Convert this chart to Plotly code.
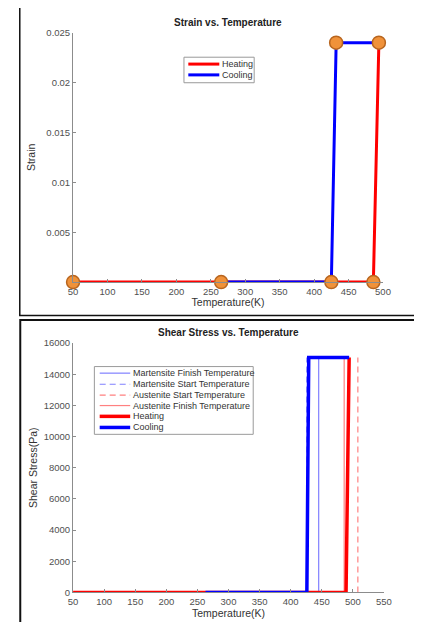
import plotly.graph_objects as go

# ---------------- data ----------------
# Strain vs. Temperature
heat_T = [50, 265, 425, 486, 494]
heat_strain = [0, 0, 0, 0, 0.024]
cool_T = [494, 432, 425, 265]
cool_strain = [0.024, 0.024, 0, 0]
marker_T = [50, 265, 425, 486, 432, 494]
marker_strain = [0, 0, 0, 0, 0.024, 0.024]

# Shear Stress vs. Temperature
heat2_T = [50, 263, 426, 489, 494]
heat2_stress = [0, 0, 0, 0, 15070]
cool2_T = [494, 429, 426, 263]
cool2_stress = [15070, 15070, 0, 0]
stress_top = 15070
Mf, Ms, As, Af = 445, 426, 508, 486

strain_ticks = [0.005, 0.01, 0.015, 0.02, 0.025]
strain_ticktext = ["0.005", "0.01", "0.015", "0.02", "0.025"]
temp_ticks1 = [50, 100, 150, 200, 250, 300, 350, 400, 450, 500]
temp_ticks2 = [50, 100, 150, 200, 250, 300, 350, 400, 450, 500, 550]
stress_ticks = [0, 2000, 4000, 6000, 8000, 10000, 12000, 14000, 16000]

# ---------------- helpers ----------------
OFF = 8            # default page margin around the figure
W, H = 414, 614    # figure size so that page + margins fit the 422x631 window


def fx(px):
    return (px - OFF) / W


def fy(py):
    return 1 - (py - OFF) / H


FONT = "Liberation Sans, Arial, sans-serif"
RED = "#ff0000"
BLUE = "#0000ff"
LRED = "#ff8080"
LBLUE = "#8080ff"
DASH = "6px,4px"

fig = go.Figure()

# top panel
fig.add_trace(go.Scatter(x=heat_T, y=heat_strain, mode="lines", name="Heating",
                         line=dict(color=RED, width=3), xaxis="x", yaxis="y", showlegend=False))
fig.add_trace(go.Scatter(x=cool_T, y=cool_strain, mode="lines", name="Cooling",
                         line=dict(color=BLUE, width=3), xaxis="x", yaxis="y", showlegend=False))
fig.add_trace(go.Scatter(x=marker_T, y=marker_strain, mode="markers", showlegend=False,
                         marker=dict(size=13, color="#f0923a", line=dict(color="#b8651e", width=1.5)),
                         xaxis="x", yaxis="y", cliponaxis=False))

# bottom panel
thin = [
    ("Martensite Finish Temperature", Mf, LBLUE, "solid"),
    ("Martensite Start Temperature", Ms, LBLUE, DASH),
    ("Austenite Start Temperature", As, LRED, DASH),
    ("Austenite Finish Temperature", Af, LRED, "solid"),
]
for name, T, col, dash in thin:
    fig.add_trace(go.Scatter(x=[T, T], y=[0, stress_top], mode="lines", name=name,
                             line=dict(color=col, width=1.2, dash=dash),
                             xaxis="x2", yaxis="y2", showlegend=False))
fig.add_trace(go.Scatter(x=heat2_T, y=heat2_stress, mode="lines", name="Heating",
                         line=dict(color=RED, width=3.5), xaxis="x2", yaxis="y2", showlegend=False))
fig.add_trace(go.Scatter(x=cool2_T, y=cool2_stress, mode="lines", name="Cooling",
                         line=dict(color=BLUE, width=3.5), xaxis="x2", yaxis="y2", showlegend=False))

axis_common = dict(showgrid=False, zeroline=False, showline=True, linecolor="#8c8c8c", linewidth=1,
                   ticks="inside", ticklen=3, tickcolor="#8c8c8c", mirror=False,
                   tickfont=dict(family=FONT, size=9.5, color="#505050"))
title_font = dict(family=FONT, size=10.5, color="#333333")

fig.update_layout(
    width=W, height=H, margin=dict(l=0, r=0, t=0, b=0),
    paper_bgcolor="white", plot_bgcolor="white", showlegend=False,
    xaxis=dict(domain=[fx(70), fx(390)], range=[50, 500], tickvals=temp_ticks1,
               anchor="y", title=dict(text="Temperature(K)", standoff=3, font=title_font), **axis_common),
    yaxis=dict(domain=[fy(281), fy(27)], range=[0, 0.025], tickvals=strain_ticks, ticktext=strain_ticktext,
               anchor="x", title=dict(text="Strain", standoff=8, font=title_font), **axis_common),
    xaxis2=dict(domain=[fx(70), fx(391)], range=[50, 550], tickvals=temp_ticks2,
                anchor="y2", title=dict(text="Temperature(K)", standoff=3, font=title_font), **axis_common),
    yaxis2=dict(domain=[fy(597), fy(343)], range=[0, 16000], tickvals=stress_ticks, tickformat="d",
                anchor="x2", title=dict(text="Shear Stress(Pa)", standoff=4, font=title_font), **axis_common),
)

shapes = []
annotations = []

# frames
shapes.append(dict(type="rect", xref="paper", yref="paper", x0=fx(15), x1=fx(445), y0=fy(315), y1=fy(-5),
                   line=dict(color="#111111", width=1.5)))
shapes.append(dict(type="rect", xref="paper", yref="paper", x0=fx(15.5), x1=fx(445), y0=fy(640), y1=fy(319.5),
                   line=dict(color="#111111", width=2)))

# titles
annotations.append(dict(text="<b>Strain vs. Temperature</b>", x=fx(230), y=fy(17), xref="paper", yref="paper",
                        showarrow=False, xanchor="center", yanchor="middle",
                        font=dict(family=FONT, size=10, color="#222222")))
annotations.append(dict(text="<b>Shear Stress vs. Temperature</b>", x=fx(231), y=fy(332), xref="paper", yref="paper",
                        showarrow=False, xanchor="center", yanchor="middle",
                        font=dict(family=FONT, size=10, color="#222222")))


# manual legends
def legend(box, items, line_x, text_x, ys):
    x0, x1, y0, y1 = box
    shapes.append(dict(type="rect", xref="paper", yref="paper", x0=fx(x0), x1=fx(x1), y0=fy(y1), y1=fy(y0),
                       line=dict(color="#9a9a9a", width=1), fillcolor="white", layer="above"))
    for (label, col, width, dash), yy in zip(items, ys):
        shapes.append(dict(type="line", xref="paper", yref="paper", x0=fx(line_x[0]), x1=fx(line_x[1]),
                           y0=fy(yy), y1=fy(yy), line=dict(color=col, width=width, dash=dash), layer="above"))
        annotations.append(dict(text=label, x=fx(text_x), y=fy(yy), xref="paper", yref="paper",
                                showarrow=False, xanchor="left", yanchor="middle",
                                font=dict(family=FONT, size=9, color="#333333")))


legend((184.5, 257, 52, 78), [("Heating", RED, 3, "solid"), ("Cooling", BLUE, 3, "solid")],
       (189, 221), 221.5, [59, 70])
legend((92, 256, 367, 436),
       [(n, c, 1.2, d) for n, _, c, d in thin] + [("Heating", RED, 3.5, "solid"), ("Cooling", BLUE, 3.5, "solid")],
       (97.5, 129), 129.5, [373.7, 385, 396, 406.7, 417.7, 429])

fig.update_layout(shapes=shapes, annotations=annotations)

fig.write_html("out.html")
